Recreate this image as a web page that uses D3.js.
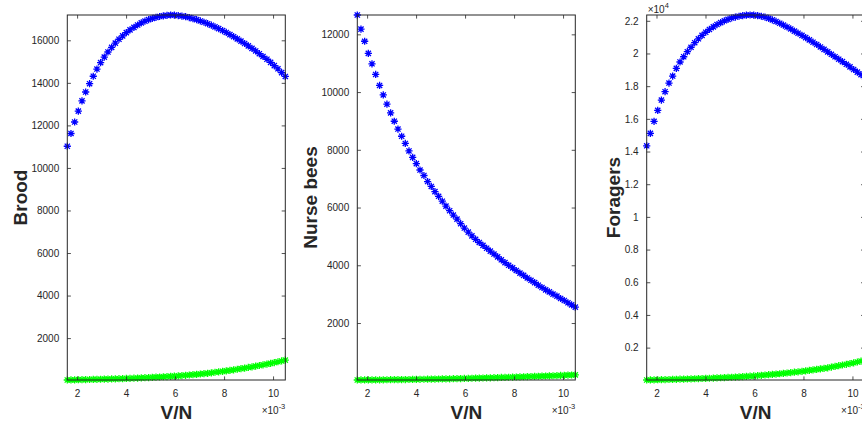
<!DOCTYPE html>
<html><head><meta charset="utf-8">
<script src="https://cdn.jsdelivr.net/npm/d3@7"></script>
<style>
body{margin:0;background:#fff}
svg{display:block}
text{font-family:"Liberation Sans",Arial,Helvetica,sans-serif}
</style>
</head><body>
<svg id="chart" width="862" height="423"></svg>
<script>
// V/N values (x 10^-3)
const vn = [1.60,1.75,1.90,2.05,2.20,2.35,2.51,2.66,2.81,2.96,3.11,3.26,3.41,3.56,3.71,3.86,4.01,4.16,4.32,4.47,
            4.62,4.77,4.92,5.07,5.22,5.37,5.52,5.67,5.82,5.97,6.13,6.28,6.43,6.58,6.73,6.88,7.03,7.18,7.33,7.48,
            7.63,7.78,7.94,8.09,8.24,8.39,8.54,8.69,8.84,8.99,9.14,9.29,9.44,9.59,9.75,9.90,10.05,10.20,10.35,10.50];

const broodBlue = [11020,11620,12160,12670,13150,13570,13960,14310,14650,14950,15210,15450,15670,15870,16050,16210,16360,16490,16610,16720,
                   16820,16900,16970,17030,17080,17120,17150,17175,17190,17185,17165,17140,17110,17070,17020,16970,16910,16850,16780,16710,
                   16630,16550,16460,16370,16270,16170,16070,15960,15850,15740,15620,15500,15370,15240,15110,14960,14810,14660,14480,14300];
const broodGreen = [30,33,37,41,45,49,53,57,61,65,70,75,80,85,90,96,102,108,115,122,
                    129,137,145,154,163,172,182,192,203,214,226,239,252,266,281,296,312,329,346,364,
                    395,415,437,460,484,509,535,562,590,619,649,680,712,745,779,814,850,887,925,965];

const nurseBlue = [12670,12180,11760,11340,10980,10610,10230,9900,9580,9280,8990,8720,8470,8220,7960,7740,7520,7300,7110,6900,
                   6730,6550,6390,6220,6050,5890,5740,5600,5440,5290,5150,5020,4900,4790,4690,4590,4490,4390,4290,4190,
                   4090,4000,3910,3820,3730,3650,3560,3480,3400,3310,3230,3150,3080,3000,2930,2850,2780,2700,2630,2550];
const nurseGreen = [26,27,28,29,30,31,32,33,34,36,37,39,40,42,44,46,48,50,52,54,
                    56,58,61,63,66,68,71,74,77,80,83,86,89,92,96,99,103,106,110,114,
                    118,122,126,130,134,138,142,147,151,156,160,165,169,174,179,184,189,194,199,204];

const foragerBlue = [14350,15110,15850,16520,17150,17660,18190,18620,19090,19480,19800,20110,20380,20660,20900,21110,21300,21470,21630,21770,
                     21890,22000,22090,22170,22230,22280,22320,22345,22355,22345,22320,22280,22220,22150,22060,21960,21850,21740,21620,21500,
                     21370,21240,21110,20970,20830,20690,20550,20400,20250,20100,19950,19800,19650,19500,19340,19180,19020,18860,18700,18540];
const foragerGreen = [18,22,27,32,37,42,48,54,60,66,72,79,86,93,101,109,117,126,135,145,
                      155,165,176,187,199,211,224,237,251,265,290,306,323,341,360,380,401,423,446,470,
                      495,521,548,576,605,635,666,698,731,765,810,850,892,935,980,1025,1072,1120,1170,1220];

const xTicks = [2,4,6,8,10];
const broodTicks = [2000,4000,6000,8000,10000,12000,14000,16000];
const nurseTicks = [2000,4000,6000,8000,10000,12000];
const foragerTicks = [2000,4000,6000,8000,10000,12000,14000,16000,18000,20000,22000];

const svg = d3.select("#chart");
const plotTop = 15, plotBottom = 380, pw = 218;
const axisColor = "#262626";

const panels = [
  {left:67.3, name:"Brood", blue:broodBlue, green:broodGreen, ticks:broodTicks, fmt:d=>String(d), labX:26.5, exp:false},
  {left:357.3, name:"Nurse bees", blue:nurseBlue, green:nurseGreen, ticks:nurseTicks, fmt:d=>String(d), labX:316.5, exp:false},
  {left:646.7, name:"Foragers", blue:foragerBlue, green:foragerGreen, ticks:foragerTicks, fmt:d=>String(+(d/10000).toFixed(1)), labX:619.5, exp:true}
];

const star = "M-3.6,0H3.6M0,-3.6V3.6M-2.6,-2.6L2.6,2.6M-2.6,2.6L2.6,-2.6";

panels.forEach(p => {
  const x = d3.scaleLinear().domain([1.6, 10.5]).range([p.left, p.left + pw]);
  const all = p.blue.concat(p.green);
  const y = d3.scaleLinear().domain([d3.min(all), d3.max(all)]).range([plotBottom, plotTop]);
  const g = svg.append("g");

  [[p.green, "#00ff00"], [p.blue, "#0000ff"]].forEach(([arr, col]) => {
    g.append("g").selectAll("path").data(arr).join("path")
      .attr("transform", (d, i) => `translate(${x(vn[i])},${y(d)})`)
      .attr("d", star)
      .attr("fill", "none")
      .attr("stroke", col)
      .attr("stroke-width", 1.3);
  });

  const tl = 3.6;
  const bottomAxis = d3.axisBottom(x).tickValues(xTicks).tickSize(-tl).tickPadding(tl + 6).tickFormat(d3.format("d"));
  const topAxis = d3.axisTop(x).tickValues(xTicks).tickSize(-tl).tickFormat("");
  const leftAxis = d3.axisLeft(y).tickValues(p.ticks).tickSize(-tl).tickPadding(tl + 4.5).tickFormat(p.fmt);
  const rightAxis = d3.axisRight(y).tickValues(p.ticks).tickSize(-tl).tickFormat("");

  const styleAxis = sel => {
    sel.select(".domain").remove();
    sel.selectAll(".tick line").attr("stroke", axisColor).attr("stroke-width", 0.8);
    sel.selectAll(".tick text").attr("fill", axisColor).attr("font-size", 10)
      .attr("font-family", '"Liberation Sans",Arial,Helvetica,sans-serif');
  };
  g.append("g").attr("transform", `translate(0,${plotBottom})`).call(bottomAxis).call(styleAxis);
  g.append("g").attr("transform", `translate(0,${plotTop})`).call(topAxis).call(styleAxis);
  g.append("g").attr("transform", `translate(${p.left},0)`).call(leftAxis).call(styleAxis);
  g.append("g").attr("transform", `translate(${p.left + pw},0)`).call(rightAxis).call(styleAxis);

  g.append("rect").attr("x", p.left).attr("y", plotTop).attr("width", pw).attr("height", plotBottom - plotTop)
    .attr("fill", "none").attr("stroke", axisColor).attr("stroke-width", 1);

  g.append("text").attr("x", p.left + pw / 2).attr("y", 419)
    .attr("text-anchor", "middle").attr("font-size", 19).attr("font-weight", "bold").attr("fill", axisColor)
    .text("V/N");
  const ex = g.append("text").attr("x", p.left + pw).attr("y", 413.5).attr("text-anchor", "end")
    .attr("font-size", 10).attr("fill", axisColor);
  ex.append("tspan").text("\u00d710");
  ex.append("tspan").attr("dy", -5).attr("font-size", 7.5).text("-3");

  g.append("text").attr("transform", `translate(${p.labX},${(plotTop + plotBottom) / 2}) rotate(-90)`)
    .attr("text-anchor", "middle").attr("font-size", 19).attr("font-weight", "bold").attr("fill", axisColor)
    .text(p.name);

  if (p.exp) {
    const ey = g.append("text").attr("x", p.left + 1).attr("y", 12.5).attr("font-size", 10).attr("fill", axisColor);
    ey.append("tspan").text("\u00d710");
    ey.append("tspan").attr("dy", -5).attr("font-size", 7.5).text("4");
  }
});
</script>
</body></html>
